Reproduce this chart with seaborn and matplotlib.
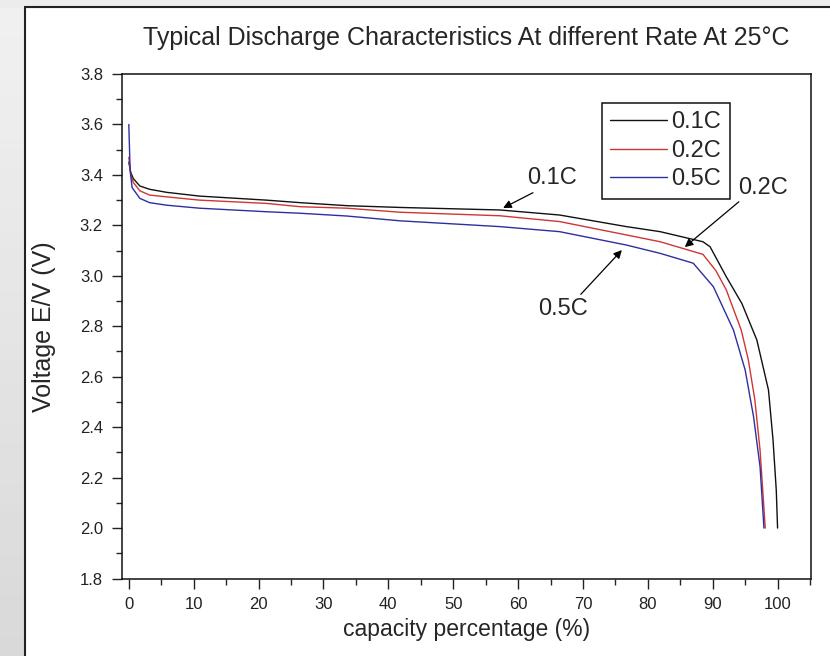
import numpy as np
import pandas as pd
import matplotlib
matplotlib.use('Agg')
import matplotlib.pyplot as plt
import seaborn as sns
from matplotlib.patches import Rectangle
from matplotlib.lines import Line2D
from matplotlib.ticker import MultipleLocator, FormatStrFormatter

# values
cap_01 = [0, 0.3, 0.7, 1.7, 3.2, 5.8, 10.9, 21.2, 26.4, 33.6, 41.8, 57.2, 66.4, 76.7,
          81.9, 88.5, 89.6, 92.1, 94.5, 96.8, 98.6, 99.3, 99.8, 100]
volt_01 = [3.45, 3.41, 3.385, 3.356, 3.343, 3.331, 3.316, 3.300, 3.290, 3.278, 3.271, 3.261, 3.241, 3.195,
           3.175, 3.135, 3.115, 2.996, 2.890, 2.746, 2.547, 2.349, 2.15, 2.0]

cap_02 = [0, 0.3, 0.7, 1.7, 3.2, 5.8, 10.9, 21.2, 26.4, 33.6, 41.8, 57.2, 66.4, 76.7,
          81.9, 88.5, 90.5, 92.1, 94.4, 95.5, 96.5, 97.3, 98.1]
volt_02 = [3.47, 3.40, 3.37, 3.337, 3.320, 3.313, 3.300, 3.287, 3.274, 3.268, 3.252, 3.238, 3.215, 3.162,
           3.135, 3.085, 3.02, 2.944, 2.785, 2.666, 2.508, 2.309, 2.0]

cap_05 = [0, 0.2, 0.5, 1.7, 3.2, 5.8, 10.9, 21.2, 26.4, 33.6, 41.8, 57.2, 66.4, 76.7,
          81.9, 87.0, 90.1, 93.2, 95.0, 96.3, 97.3, 97.9]
volt_05 = [3.60, 3.42, 3.35, 3.307, 3.290, 3.280, 3.268, 3.254, 3.248, 3.237, 3.218, 3.195, 3.175, 3.122,
           3.089, 3.050, 2.957, 2.785, 2.627, 2.441, 2.243, 2.0]

rates = ['0.1C', '0.2C', '0.5C']
colors = {'0.1C': '#111111', '0.2C': '#d03535', '0.5C': '#2e2ea2'}

df = pd.concat([
    pd.DataFrame({'capacity': cap_01, 'voltage': volt_01, 'rate': '0.1C'}),
    pd.DataFrame({'capacity': cap_02, 'voltage': volt_02, 'rate': '0.2C'}),
    pd.DataFrame({'capacity': cap_05, 'voltage': volt_05, 'rate': '0.5C'}),
])

sns.set_theme(style='ticks')
plt.rcParams['font.family'] = ['Liberation Sans', 'DejaVu Sans']

fig = plt.figure(figsize=(8.3, 6.56), dpi=100)
fig.patch.set_facecolor('white')

# grey page border like the screenshot (left strip is a soft vertical gradient)
bg = fig.add_axes([0, 0, 25 / 830, 1 - 7 / 656])
bg.imshow(np.linspace(0, 1, 64).reshape(-1, 1), aspect='auto', cmap='Greys',
          vmin=-0.92, vmax=6.77, extent=(0, 1, 0, 1), origin='upper')
bg.set_axis_off()
fig.patches.append(Rectangle((0, 1 - 7 / 656), 1, 7 / 656, transform=fig.transFigure, color='#ececec', zorder=0))
fig.lines.append(Line2D([25 / 830, 25 / 830], [0, 1 - 7 / 656], transform=fig.transFigure, color='#222222', lw=1.5))
fig.lines.append(Line2D([25 / 830, 1], [1 - 7 / 656, 1 - 7 / 656], transform=fig.transFigure, color='#222222', lw=1.5))

ax = fig.add_axes([0.1466, 0.1181, 0.8301, 0.7691])

for r in rates:
    sub = df[df['rate'] == r]
    sns.lineplot(data=sub, x='capacity', y='voltage', color=colors[r], linewidth=1.0,
                 label=r, ax=ax, sort=False, estimator=None)

ax.set_xlim(-1.1, 105.1)
ax.set_ylim(1.8, 3.8)
ax.xaxis.set_major_locator(MultipleLocator(10))
ax.xaxis.set_minor_locator(MultipleLocator(5))
ax.yaxis.set_major_locator(MultipleLocator(0.2))
ax.yaxis.set_minor_locator(MultipleLocator(0.1))
ax.yaxis.set_major_formatter(FormatStrFormatter('%.1f'))
ax.tick_params(which='major', direction='out', length=7.5, width=1.0, labelsize=12, colors='#222222', pad=6)
ax.tick_params(which='minor', direction='out', length=4.5, width=1.0)
ax.tick_params(top=False, right=False)
for s in ax.spines.values():
    s.set_linewidth(1.1)
    s.set_color('#111111')

ax.set_xlabel('capacity percentage (%)', fontsize=16.5, labelpad=4)
ax.set_ylabel('Voltage E/V (V)', fontsize=18)
ax.yaxis.set_label_coords(-0.095, 0.5)
ax.set_title('Typical Discharge Characteristics At different Rate At 25°C', fontsize=18, pad=21)

ax.legend(loc='upper left', bbox_to_anchor=(0.697, 0.9425), fontsize=17, frameon=True,
          fancybox=False, edgecolor='#111111', framealpha=1, borderpad=0.35,
          labelspacing=0.28, handlelength=2.4, handletextpad=0.2, borderaxespad=0)
ax.get_legend().get_frame().set_linewidth(1.1)

arrow = dict(arrowstyle='-|>', color='black', lw=0.9, mutation_scale=12, shrinkA=0, shrinkB=0)
ax.annotate('0.1C', xy=(57.7, 3.269), xytext=(65.2, 3.386), fontsize=17,
            ha='center', va='center', arrowprops=dict(arrow, relpos=(0.25, 0.0)))
ax.annotate('0.5C', xy=(76.0, 3.102), xytext=(66.9, 2.870), fontsize=17,
            ha='center', va='center', arrowprops=dict(arrow, relpos=(0.8, 1.0)))
ax.annotate('0.2C', xy=(85.7, 3.114), xytext=(97.7, 3.350), fontsize=17,
            ha='center', va='center', arrowprops=dict(arrow, relpos=(0.1, 0.0)))

fig.savefig('out.png', dpi=100)
